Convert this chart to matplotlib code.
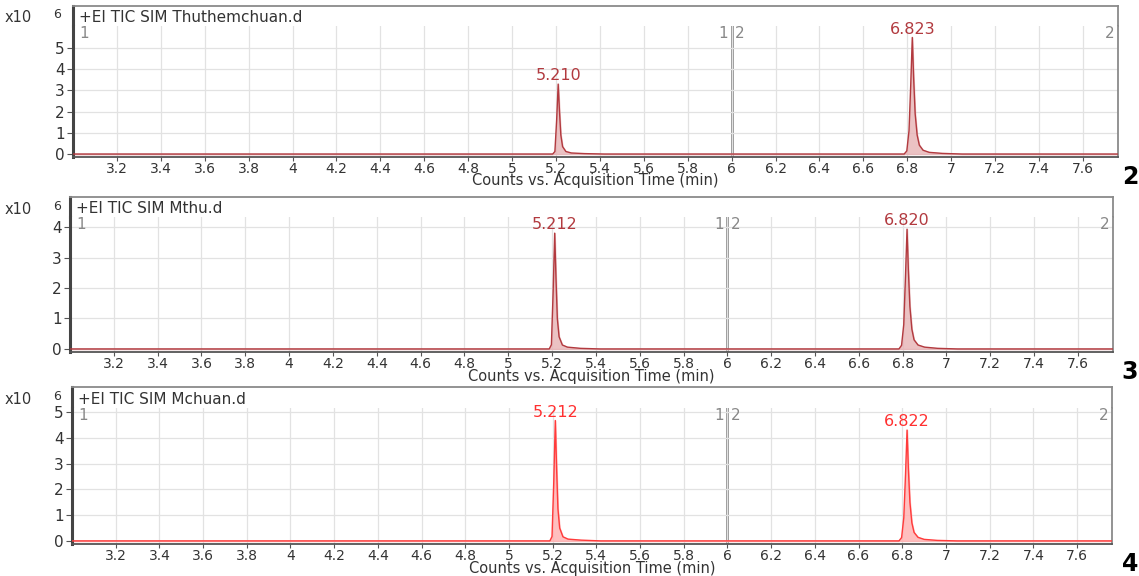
import numpy as np
import matplotlib
matplotlib.use("Agg")
import matplotlib.pyplot as plt

# ---- data (counts in units of 10^6) ----
names = ["+EI TIC SIM Thuthemchuan.d", "+EI TIC SIM Mthu.d", "+EI TIC SIM Mchuan.d"]
panel_tags = ["2", "3", "4"]

t1 = [3.0, 5.185, 5.195, 5.203, 5.210, 5.216, 5.222, 5.230, 5.245, 5.27, 5.33, 5.42,
      6.786, 6.798, 6.808, 6.816, 6.823, 6.829, 6.836, 6.845, 6.855, 6.872, 6.90, 6.96, 7.05, 7.76]
c1 = [0.0, 0.0, 0.12, 1.6, 3.3, 2.0, 0.9, 0.35, 0.12, 0.05, 0.02, 0.0,
      0.0, 0.15, 1.1, 3.3, 5.5, 3.6, 1.9, 0.9, 0.42, 0.18, 0.08, 0.03, 0.0, 0.0]

t2 = [3.0, 5.187, 5.197, 5.205, 5.212, 5.218, 5.224, 5.232, 5.247, 5.27, 5.33, 5.42,
      6.783, 6.795, 6.805, 6.813, 6.820, 6.826, 6.833, 6.842, 6.852, 6.870, 6.90, 6.96, 7.05, 7.76]
c2 = [0.0, 0.0, 0.14, 1.9, 3.8, 2.3, 1.0, 0.4, 0.13, 0.06, 0.02, 0.0,
      0.0, 0.12, 0.8, 2.4, 3.93, 2.6, 1.4, 0.65, 0.3, 0.13, 0.06, 0.02, 0.0, 0.0]

t3 = [3.0, 5.187, 5.197, 5.205, 5.212, 5.218, 5.224, 5.232, 5.247, 5.27, 5.33, 5.42,
      6.785, 6.797, 6.807, 6.815, 6.822, 6.828, 6.835, 6.844, 6.854, 6.872, 6.90, 6.96, 7.05, 7.76]
c3 = [0.0, 0.0, 0.17, 2.3, 4.67, 2.8, 1.25, 0.5, 0.16, 0.07, 0.03, 0.0,
      0.0, 0.13, 0.9, 2.6, 4.3, 2.8, 1.5, 0.7, 0.33, 0.14, 0.06, 0.02, 0.0, 0.0]

peak_rt = [[5.210, 6.823], [5.212, 6.820], [5.212, 6.822]]
peak_h = [[3.3, 5.5], [3.8, 3.93], [4.67, 4.3]]
peak_lbl = [["5.210", "6.823"], ["5.212", "6.820"], ["5.212", "6.822"]]

times = [t1, t2, t3]
counts = [c1, c2, c3]
yticks = [[0, 1, 2, 3, 4, 5], [0, 1, 2, 3, 4], [0, 1, 2, 3, 4, 5]]
ylims = [(-0.14, 6.04), (-0.1, 4.33), (-0.12, 5.155)]
xticks = [3.2, 3.4, 3.6, 3.8, 4, 4.2, 4.4, 4.6, 4.8, 5, 5.2, 5.4, 5.6, 5.8, 6,
          6.2, 6.4, 6.6, 6.8, 7, 7.2, 7.4, 7.6]
xtick_lbl = ["3.2", "3.4", "3.6", "3.8", "4", "4.2", "4.4", "4.6", "4.8", "5", "5.2", "5.4",
             "5.6", "5.8", "6", "6.2", "6.4", "6.6", "6.8", "7", "7.2", "7.4", "7.6"]

# ---- layout in pixels: (left, right, frame top, plot top, axis bottom) ----
boxes = [(73, 1118, 6, 26, 157), (70, 1113, 197, 217, 352), (72, 1112, 387, 408, 544)]
line_cols = ["#b23a3f", "#b23a3f", "#ff3b3b"]
fill_cols = ["#e7b3b5", "#e7b3b5", "#ffb0b0"]
lbl_cols = ["#b23a3f", "#b23a3f", "#ff3030"]

W, H = 1139, 576
plt.rcParams["font.family"] = ["DejaVu Sans"]
fig = plt.figure(figsize=(W / 100, H / 100), dpi=100)
txt = "#333333"
fs = 11

def fx(x):
    return x / W

def fy(y):
    return 1 - y / H

for i in range(3):
    l, r, ft, pt, pb = boxes[i]
    hd = fig.add_axes([fx(l), fy(pt), fx(r - l), (pt - ft) / H])
    ax = fig.add_axes([fx(l), fy(pb), fx(r - l), (pb - pt) / H])
    hd.set_xticks([])
    hd.set_yticks([])
    for s in hd.spines.values():
        s.set_color("#8a8a8a")
        s.set_linewidth(1.3)
    hd.spines["left"].set_color("#444444")
    hd.spines["left"].set_linewidth(2.2)
    hd.spines["bottom"].set_visible(False)
    hd.text(0.006, 0.42, names[i], transform=hd.transAxes, ha="left", va="center",
            fontsize=fs, color=txt)

    ax.plot(times[i], counts[i], color=line_cols[i], lw=1.0, zorder=3)
    ax.fill_between(times[i], counts[i], 0, color=fill_cols[i], alpha=0.8, zorder=2)
    for rt, h, s in zip(peak_rt[i], peak_h[i], peak_lbl[i]):
        ax.annotate(s, (rt, h), xytext=(0, 0.5), textcoords="offset points",
                    ha="center", va="bottom", fontsize=11.5, color=lbl_cols[i], zorder=4)

    ax.set_xlim(3.0, 7.76)
    ax.set_ylim(*ylims[i])
    ax.set_xticks(xticks)
    ax.set_xticklabels(xtick_lbl)
    ax.set_yticks(yticks[i])
    ax.grid(True, color="#e2e2e2", lw=0.9, zorder=0)
    ax.tick_params(axis="x", direction="out", length=3, pad=0.5, labelsize=10,
                   labelcolor=txt, color="#555555")
    ax.tick_params(axis="y", direction="out", length=4, pad=2, labelsize=fs,
                   labelcolor=txt, color="#555555")
    ax.spines["top"].set_visible(False)
    ax.spines["left"].set_color("#444444")
    ax.spines["left"].set_linewidth(2.2)
    ax.spines["bottom"].set_color("#555555")
    ax.spines["bottom"].set_linewidth(1.3)
    ax.spines["right"].set_color("#8a8a8a")
    ax.spines["right"].set_linewidth(1.3)

    # segment divider
    ax.axvline(6.0, color="#8c8c8c", lw=2.0, zorder=1)
    top = ylims[i][1]
    ax.text(3.03, top, "1", ha="left", va="top", fontsize=fs, color="#888888")
    ax.text(5.985, top, "1", ha="right", va="top", fontsize=fs, color="#888888")
    ax.text(6.015, top, "2", ha="left", va="top", fontsize=fs, color="#888888")
    ax.text(7.745, top, "2", ha="right", va="top", fontsize=fs, color="#888888")

    ax.set_xlabel("Counts vs. Acquisition Time (min)", fontsize=10.5, color=txt, va="center")
    ax.xaxis.set_label_coords(0.5, -24 / (pb - pt))

    fig.text(fx(5), fy(ft + 12), "x10", ha="left", va="center", fontsize=10.5, color=txt)
    fig.text(fx(53), fy(ft + 9), "6", ha="left", va="center", fontsize=9, color=txt)
    fig.text(fx(1130), fy(pb + 20), panel_tags[i], ha="center", va="center",
             fontsize=17, fontweight="bold", color="black")

fig.savefig("out.png", dpi=100)
